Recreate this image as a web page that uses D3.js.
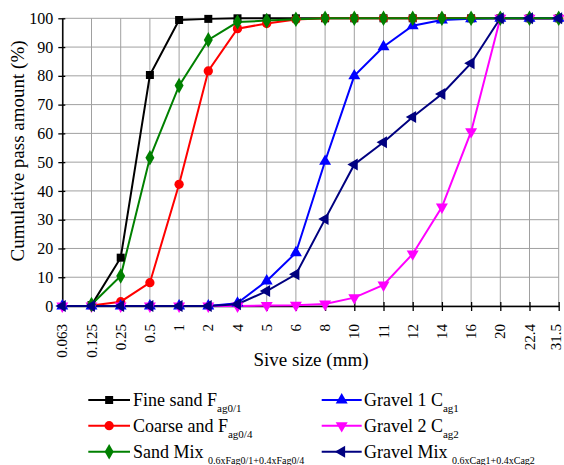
<!DOCTYPE html>
<html>
<head>
<meta charset="utf-8">
<script src="https://cdn.jsdelivr.net/npm/d3@7"></script>
<style>
  body { margin: 0; background: #fff; }
  svg text { font-family: "Liberation Serif", "DejaVu Serif", serif; fill: #000; }
</style>
</head>
<body>
<div id="chart"></div>
<script>
// sieve sizes (mm) and cumulative pass amounts (%)
const sieveSizes = ["0.063", "0.125", "0.25", "0.5", "1", "2", "4", "5", "6", "8",
                    "10", "11", "12", "14", "16", "20", "22.4", "31.5"];
const yTicks = [0, 10, 20, 30, 40, 50, 60, 70, 80, 90, 100];

// null = no measurement on that sieve
const fineSand   = [null, 0.3, 16.8, 80.3, 99.4, 99.8, 100, 100, 100, 100, 100, 100, 100, 100, 100, 100, 100, 100];
const coarseSand = [null, 0.2, 1.5, 8.1, 42.3, 81.7, 96.4, 98.2, 99.6, 100, 100, 100, 100, 100, 100, 100, 100, 100];
const sandMix    = [null, 0.5, 10.4, 51.5, 76.6, 92.5, 98.7, 99.2, 99.7, 100, 100, 100, 100, 100, 100, 100, 100, 100];
const gravel1    = [0, 0, 0, 0, 0, 0, 1.0, 8.7, 18.5, 50.3, 80.0, 90.1, 97.4, 99.4, 99.8, 100, 100, 100];
const gravel2    = [0, 0, 0, 0, 0, 0, 0, 0.2, 0.3, 0.7, 2.9, 7.3, 18.1, 34.4, 60.6, 100, 100, 100];
const gravelMix  = [0, 0, 0, 0, 0, 0, 0.6, 5.2, 11.0, 30.2, 49.2, 56.9, 65.7, 73.7, 84.4, 100, 100, 100];

const seriesNames = ["Fine sand F", "Coarse and F", "Sand Mix ", "Gravel 1 C", "Gravel 2 C", "Gravel Mix "];
const seriesSubs  = ["ag0/1", "ag0/4", "0.6xFag0/1+0.4xFag0/4", "ag1", "ag2", "0.6xCag1+0.4xCag2"];
const seriesValues = [fineSand, coarseSand, sandMix, gravel1, gravel2, gravelMix];
const seriesColors = ["#000000", "#ff0000", "#008000", "#0000ff", "#ff00ff", "#000080"];

const serifFont = "'Liberation Serif', 'DejaVu Serif', serif";
const width = 564, height = 465;
const margin = {top: 18.3, right: 5.3, bottom: 159, left: 62.3};

const svg = d3.select("#chart").append("svg")
    .attr("width", width)
    .attr("height", height)
    .attr("font-family", serifFont);

const x = d3.scalePoint()
    .domain(sieveSizes)
    .range([margin.left, width - margin.right]);

const y = d3.scaleLinear()
    .domain([0, 100])
    .range([height - margin.bottom, margin.top]);

// symbols for each series
const symbols = [
    d3.symbol().type(d3.symbolSquare).size(64),
    d3.symbol().type(d3.symbolCircle).size(68),
    d3.symbol().type(d3.symbolDiamond).size(70),
    d3.symbol().type(d3.symbolTriangle).size(62),
    d3.symbol().type(d3.symbolTriangle).size(62),
    d3.symbol().type(d3.symbolTriangle).size(62)
];
const symbolRotate = [0, 0, 0, 0, 180, -90];

// gridlines
svg.append("g")
    .selectAll("line")
    .data(sieveSizes)
    .join("line")
    .attr("x1", d => x(d)).attr("x2", d => x(d))
    .attr("y1", y(0)).attr("y2", y(100))
    .attr("stroke", "#a0a0a0")
    .attr("stroke-width", 1);

svg.append("g")
    .selectAll("line")
    .data(yTicks)
    .join("line")
    .attr("x1", margin.left).attr("x2", width - margin.right)
    .attr("y1", d => y(d)).attr("y2", d => y(d))
    .attr("stroke", "#a0a0a0")
    .attr("stroke-width", 1);

// axes
const xAxis = svg.append("g")
    .attr("transform", `translate(0, ${y(0)})`)
    .call(d3.axisBottom(x).tickSize(5).tickSizeOuter(0));
xAxis.attr("font-family", serifFont);
xAxis.select(".domain").attr("stroke", "#000").attr("stroke-width", 1.5);
xAxis.selectAll(".tick line").attr("y1", -4).attr("y2", 5).attr("stroke-width", 1.3);
xAxis.selectAll("text")
    .style("font-size", "15px")
    .style("font-family", serifFont)
    .attr("text-anchor", "end")
    .attr("transform", (d, i) => i === sieveSizes.length - 1 ? "translate(-3,0) rotate(-90)" : "rotate(-90)")
    .attr("x", -18)
    .attr("y", 0)
    .attr("dy", "0.3em");

const yAxis = svg.append("g")
    .attr("transform", `translate(${margin.left}, 0)`)
    .call(d3.axisLeft(y).tickValues(yTicks).tickSize(4).tickSizeOuter(0));
yAxis.attr("font-family", serifFont);
yAxis.select(".domain").attr("stroke", "#000").attr("stroke-width", 1.5);
yAxis.selectAll(".tick line").attr("x1", -4).attr("x2", 3).attr("stroke-width", 1.3);
yAxis.selectAll("text")
    .style("font-size", "16px")
    .style("font-family", serifFont)
    .attr("x", -9);

// axis titles
svg.append("text")
    .attr("transform", `translate(24, ${(30 + 272) / 2}) rotate(-90)`)
    .attr("text-anchor", "middle")
    .style("font-size", "19px")
    .style("font-family", serifFont)
    .text("Cumulative pass amount (%)");

svg.append("text")
    .attr("x", 311)
    .attr("y", 366)
    .attr("text-anchor", "middle")
    .style("font-size", "19px")
    .style("font-family", serifFont)
    .text("Sive size (mm)");

// series lines then markers
const line = d3.line()
    .defined(d => d !== null)
    .x((d, i) => x(sieveSizes[i]))
    .y(d => y(d));

const lineOrder = [0, 1, 3, 4, 5, 2];
const markerOrder = [0, 1, 3, 4, 2, 5];
lineOrder.forEach(s => {
    svg.append("path")
        .datum(seriesValues[s])
        .attr("fill", "none")
        .attr("stroke", seriesColors[s])
        .attr("stroke-width", 2)
        .attr("d", line);
});
markerOrder.forEach(s => {
    svg.append("g")
        .selectAll("path")
        .data(seriesValues[s].map((v, i) => ({v, i})).filter(d => d.v !== null))
        .join("path")
        .attr("d", symbols[s])
        .attr("fill", seriesColors[s])
        .attr("transform", d => `translate(${x(sieveSizes[d.i])}, ${y(d.v)}) rotate(${symbolRotate[s]})`);
});

// legend
const legendCols = [{lx: 88.3, lx2: 130, tx: 133}, {lx: 321.7, lx2: 361.7, tx: 364}];
const legendRows = [400, 425.7, 451.7];
seriesNames.forEach((name, s) => {
    const col = legendCols[Math.floor(s / 3)];
    const row = legendRows[s % 3];
    const g = svg.append("g");
    g.append("line")
        .attr("x1", col.lx).attr("x2", col.lx2)
        .attr("y1", row).attr("y2", row)
        .attr("stroke", seriesColors[s])
        .attr("stroke-width", 2);
    g.append("path")
        .attr("d", symbols[s])
        .attr("fill", seriesColors[s])
        .attr("transform", `translate(${(col.lx + col.lx2) / 2}, ${row}) rotate(${symbolRotate[s]})`);
    const t = g.append("text")
        .attr("x", col.tx)
        .attr("y", row + 6)
        .style("font-size", "18px")
        .style("font-family", serifFont);
    t.append("tspan").text(name);
    t.append("tspan")
        .attr("dy", 6)
        .style("font-size", (s === 2 || s === 5) ? "10px" : "11px")
        .text(seriesSubs[s]);
});
</script>
</body>
</html>
